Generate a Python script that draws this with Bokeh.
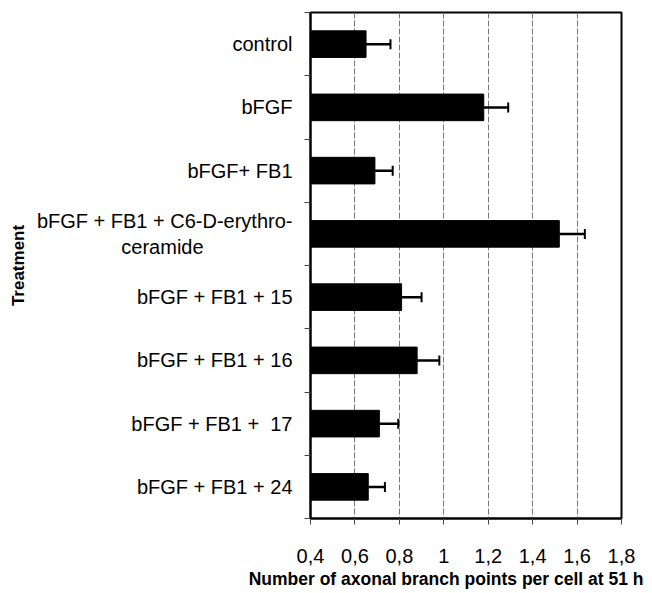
from bokeh.plotting import figure
from bokeh.models import ColumnDataSource, Whisker, TeeHead, FixedTicker, Range1d, Title
from bokeh.embed import file_html
from bokeh.resources import INLINE

# ---- data ----
treatments = [
    "control",
    "bFGF",
    "bFGF+ FB1",
    "bFGF + FB1 + C6-D-erythro-\nceramide" + "\u00a0" * 16,
    "bFGF + FB1 + 15",
    "bFGF + FB1 + 16",
    "bFGF + FB1 +\u00a0 17",
    "bFGF + FB1 + 24",
]
means = [0.65, 1.18, 0.69, 1.52, 0.81, 0.88, 0.71, 0.66]
errors = [0.11, 0.11, 0.08, 0.115, 0.09, 0.10, 0.085, 0.075]
x_ticks = [0.4, 0.6, 0.8, 1.0, 1.2, 1.4, 1.6, 1.8]
x_tick_labels = ["0,4", "0,6", "0,8", "1", "1,2", "1,4", "1,6", "1,8"]
x_min, x_max = 0.4, 1.8
x_title = "Number of axonal branch points per cell at 51 h"
y_title = "Treatment"

FONT = "Liberation Sans"

n = len(treatments)
ypos = list(range(n))
src = ColumnDataSource(dict(
    y=ypos,
    left=[x_min] * n,
    right=means,
    upper=[m + e for m, e in zip(means, errors)],
))

p = figure(
    width=650, height=592,
    x_range=Range1d(x_min, x_max),
    y_range=Range1d(n - 0.5, -0.5),
    output_backend="svg", toolbar_location=None,
    min_border_left=310, min_border_right=29, min_border_top=12, min_border_bottom=74,
)

p.hbar(y="y", left="left", right="right", height=0.42, source=src,
       fill_color="black", line_color="black")

w = Whisker(base="y", lower="right", upper="upper", dimension="width", source=src,
            line_color="black", line_width=2.5,
            lower_head=None,
            upper_head=TeeHead(size=10, line_color="black", line_width=2))
p.add_layout(w)

# frame
p.outline_line_color = "black"
p.outline_line_width = 2
p.outline_line_alpha = 1

# grid
p.ygrid.grid_line_color = None
p.xgrid.ticker = FixedTicker(ticks=x_ticks)
p.xgrid.grid_line_color = "#777777"
p.xgrid.grid_line_width = 1
p.xgrid.grid_line_dash = "6 2"

# x axis
xa = p.xaxis[0]
xa.ticker = FixedTicker(ticks=x_ticks)
xa.major_label_overrides = {t: l for t, l in zip(x_ticks, x_tick_labels)}
xa.major_label_text_font = FONT
xa.major_label_text_font_size = "20px"
xa.major_label_text_color = "black"
xa.major_label_standoff = 24
xa.major_tick_in = 0
xa.major_tick_out = 6
xa.major_tick_line_color = "#444444"
xa.minor_tick_line_color = None
xa.axis_line_color = "black"
xa.axis_line_width = 2

t = Title(text=x_title, align="right", offset=-22, standoff=2,
          text_font=FONT, text_font_style="bold", text_font_size="17.5px",
          text_color="black")
p.add_layout(t, "below")

# y axis
ya = p.yaxis[0]
ya.ticker = FixedTicker(ticks=ypos, minor_ticks=[i - 0.5 for i in range(n + 1)])
ya.major_label_overrides = {i: s for i, s in enumerate(treatments)}
ya.major_label_text_font = FONT
ya.major_label_text_font_size = "20px"
ya.major_label_text_color = "black"
ya.major_label_standoff = 12
ya.major_tick_in = 0
ya.major_tick_out = 0
ya.minor_tick_in = 0
ya.minor_tick_out = 6
ya.minor_tick_line_color = "#444444"
ya.axis_line_color = "black"
ya.axis_line_width = 2
ya.axis_label = y_title
ya.axis_label_text_font = FONT
ya.axis_label_text_font_style = "bold"
ya.axis_label_text_font_size = "17px"
ya.axis_label_text_color = "black"
ya.axis_label_standoff = 6

open("out.html", "w").write(file_html(p, INLINE))
